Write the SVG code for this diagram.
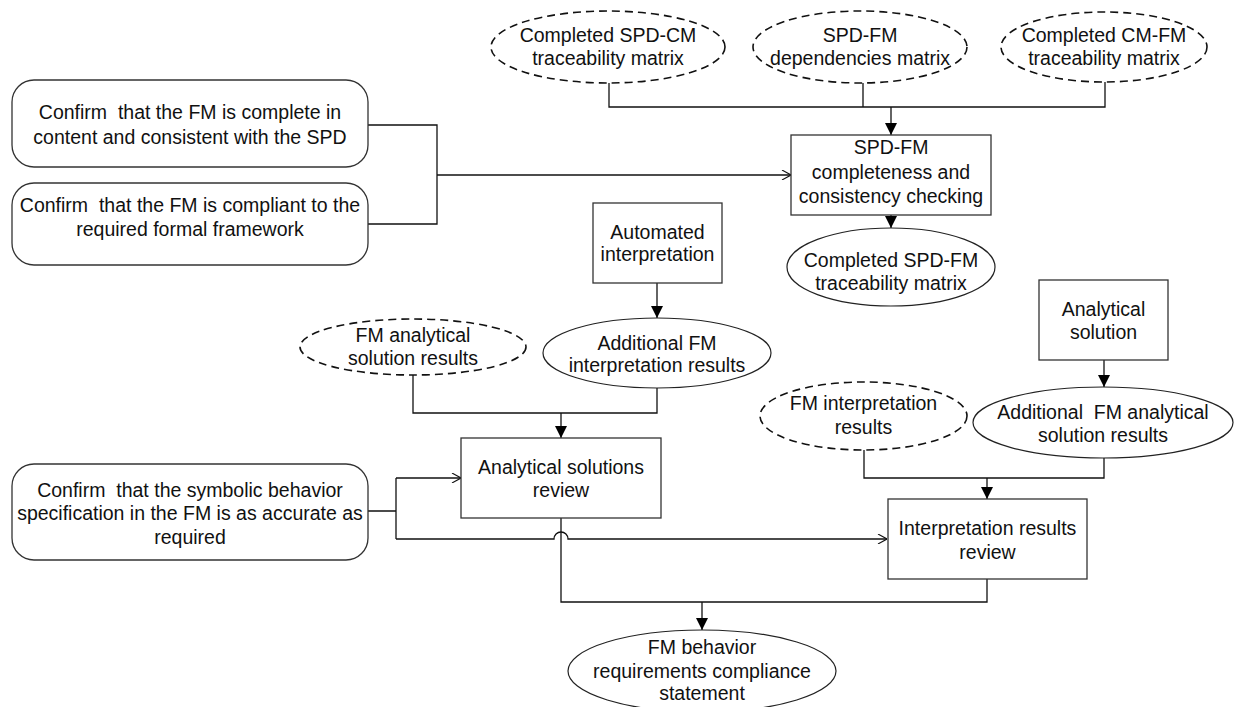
<svg xmlns="http://www.w3.org/2000/svg" width="1234" height="707" viewBox="0 0 1234 707">
  <style>
    text { font-family: "Liberation Sans", Arial, sans-serif; font-size: 19.5px; fill: #111; text-anchor: middle; white-space: pre; }
    .box { fill: #fff; stroke: #333; stroke-width: 1.3; }
    .ell { fill: #fff; stroke: #222; stroke-width: 1.2; }
    .dash { fill: #fff; stroke: #111; stroke-width: 1.6; stroke-dasharray: 8 5; }
    .wire { fill: none; stroke: #111; stroke-width: 1.3; }
    .solid { marker-end: url(#tri); }
    .open { marker-end: url(#chev); }
  </style>
  <defs>
    <marker id="tri" viewBox="0 0 12 12" refX="12" refY="6" markerWidth="12" markerHeight="12" markerUnits="userSpaceOnUse" orient="auto">
      <path d="M0,0 L12,6 L0,12 Z" fill="#000"/>
    </marker>
    <marker id="chev" viewBox="0 0 10 10" refX="10" refY="5" markerWidth="10" markerHeight="10" markerUnits="userSpaceOnUse" orient="auto">
      <path d="M1,0 L10,5 L1,10" fill="none" stroke="#111" stroke-width="1.1"/>
    </marker>
  </defs>

  <!-- connectors -->
  <g id="connectors">
    <!-- three matrices into the checking step -->
    <path class="wire" d="M609,83 V107 H1105 V82 M863,83 V107"/>
    <path class="wire solid" d="M891,107 V135"/>
    <!-- checking step to completed matrix -->
    <path class="wire solid" d="M891,215 V228"/>
    <!-- two confirm tasks into checking step -->
    <path class="wire" d="M368,125 H437 V224 H368"/>
    <path class="wire open" d="M437,175 H791"/>
    <!-- automated interpretation -->
    <path class="wire solid" d="M657,283 V318"/>
    <path class="wire" d="M413,375 V413 H657 V388"/>
    <path class="wire solid" d="M561,413 V438"/>
    <!-- analytical solution -->
    <path class="wire solid" d="M1104,360 V387"/>
    <path class="wire" d="M864,450 V478 H1104 V458"/>
    <path class="wire solid" d="M987,478 V499"/>
    <!-- symbolic behaviour confirm task, split to both reviews -->
    <path class="wire" d="M368,511 H396 M396,478 V539"/>
    <path class="wire open" d="M396,478 H461"/>
    <path class="wire open" d="M396,539 H554 A7,7 0 0 1 568,539 H887"/>
    <!-- both reviews into the compliance statement -->
    <path class="wire" d="M561,518 V602 H987 V579"/>
    <path class="wire solid" d="M702,602 V630"/>
  </g>

  <g id="n-spdcm">
    <ellipse class="dash" cx="608" cy="47" rx="117" ry="36"/>
    <text x="608" y="42">Completed SPD-CM</text>
    <text x="608" y="65">traceability matrix</text>
  </g>
  <g id="n-deps">
    <ellipse class="dash" cx="860" cy="47" rx="107" ry="36"/>
    <text x="860" y="42">SPD-FM</text>
    <text x="860" y="65">dependencies matrix</text>
  </g>
  <g id="n-cmfm">
    <ellipse class="dash" cx="1104" cy="47" rx="103" ry="35"/>
    <text x="1104" y="42">Completed CM-FM</text>
    <text x="1104" y="65">traceability matrix</text>
  </g>

  <g id="n-confirm-complete">
    <rect class="box" x="12" y="80" width="356" height="87" rx="22"/>
    <text x="190" y="119">Confirm  that the FM is complete in</text>
    <text x="190" y="144">content and consistent with the SPD</text>
  </g>
  <g id="n-confirm-framework">
    <rect class="box" x="12" y="183" width="356" height="82" rx="22"/>
    <text x="190" y="212">Confirm  that the FM is compliant to the</text>
    <text x="190" y="236">required formal framework</text>
  </g>

  <g id="n-checking">
    <rect class="box" x="791" y="135" width="200" height="80"/>
    <text x="891" y="154">SPD-FM</text>
    <text x="891" y="179">completeness and</text>
    <text x="891" y="203">consistency checking</text>
  </g>
  <g id="n-spdfm-matrix">
    <ellipse class="ell" cx="891" cy="267" rx="104" ry="39"/>
    <text x="891" y="267">Completed SPD-FM</text>
    <text x="891" y="290">traceability matrix</text>
  </g>

  <g id="n-auto-interp">
    <rect class="box" x="593" y="203" width="129" height="80"/>
    <text x="657.5" y="239">Automated</text>
    <text x="657.5" y="261">interpretation</text>
  </g>
  <g id="n-add-interp">
    <ellipse class="ell" cx="657" cy="353" rx="114" ry="35"/>
    <text x="657" y="350">Additional FM</text>
    <text x="657" y="372">interpretation results</text>
  </g>
  <g id="n-fm-analytical">
    <ellipse class="dash" cx="413" cy="347" rx="113" ry="28"/>
    <text x="413" y="342">FM analytical</text>
    <text x="413" y="365">solution results</text>
  </g>

  <g id="n-analytical-solution">
    <rect class="box" x="1039" y="280" width="129" height="80"/>
    <text x="1103.5" y="316">Analytical</text>
    <text x="1103.5" y="339">solution</text>
  </g>
  <g id="n-add-analytical">
    <ellipse class="ell" cx="1103" cy="422.5" rx="130" ry="35.5"/>
    <text x="1103" y="419">Additional  FM analytical</text>
    <text x="1103" y="442">solution results</text>
  </g>
  <g id="n-fm-interp">
    <ellipse class="dash" cx="863.5" cy="416" rx="103.5" ry="34"/>
    <text x="863.5" y="410">FM interpretation</text>
    <text x="863.5" y="434">results</text>
  </g>

  <g id="n-confirm-symbolic">
    <rect class="box" x="12" y="464" width="356" height="96" rx="22"/>
    <text x="190" y="497">Confirm  that the symbolic behavior</text>
    <text x="190" y="520">specification in the FM is as accurate as</text>
    <text x="190" y="544">required</text>
  </g>

  <g id="n-analytical-review">
    <rect class="box" x="461" y="438" width="200" height="80"/>
    <text x="561" y="474">Analytical solutions</text>
    <text x="561" y="497">review</text>
  </g>
  <g id="n-interp-review">
    <rect class="box" x="888" y="499" width="199" height="80"/>
    <text x="987.5" y="535">Interpretation results</text>
    <text x="987.5" y="559">review</text>
  </g>

  <g id="n-statement">
    <ellipse class="ell" cx="702" cy="671" rx="134" ry="41"/>
    <text x="702" y="654">FM behavior</text>
    <text x="702" y="678">requirements compliance</text>
    <text x="702" y="700">statement</text>
  </g>
</svg>
